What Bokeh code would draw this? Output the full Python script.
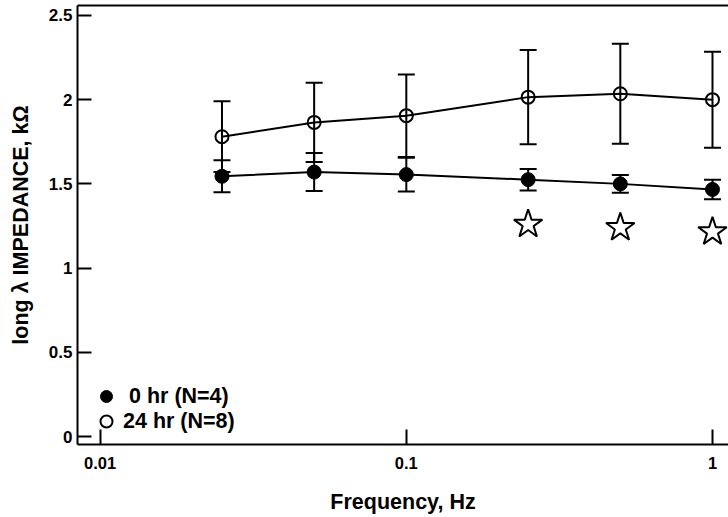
from bokeh.plotting import figure
from bokeh.models import (FixedTicker, CustomJSTickFormatter, LinearAxis, Legend,
                          LegendItem, Range1d)
from bokeh.embed import file_html
from bokeh.resources import INLINE

# ---- data ----
freq = [0.025, 0.05, 0.1, 0.25, 0.5, 1.0]
imp_0hr = [1.545, 1.57, 1.555, 1.525, 1.50, 1.467]
err_0hr = [0.095, 0.113, 0.10, 0.064, 0.053, 0.058]
imp_24hr = [1.78, 1.865, 1.905, 2.015, 2.035, 2.0]
err_24hr = [0.21, 0.235, 0.245, 0.28, 0.297, 0.285]
star_freq = [0.25, 0.5, 1.0]
star_y = [1.26, 1.24, 1.215]
x_ticks = [0.01, 0.1, 1]
y_ticks = [0, 0.5, 1, 1.5, 2, 2.5]
label_0hr = "\u00a00 hr (N=4)"
label_24hr = "24 hr (N=8)"

FONT = "Liberation Sans"

def bars(vals, errs):
    lo = [v - e for v, e in zip(vals, errs)]
    hi = [v + e for v, e in zip(vals, errs)]
    return lo, hi

lo0, hi0 = bars(imp_0hr, err_0hr)
lo24, hi24 = bars(imp_24hr, err_24hr)

p = figure(width=728, height=516, x_axis_type="log",
           x_range=Range1d(0.008434, 1.128), y_range=Range1d(-0.0473, 2.559),
           output_backend="svg", toolbar_location=None,
           min_border_left=77, min_border_right=0, min_border_top=5,
           min_border_bottom=70)
p.outline_line_color = None
p.xgrid.visible = False
p.ygrid.visible = False
p.background_fill_color = "white"

bx = p.below[0]
ly = p.left[0]

fmt = CustomJSTickFormatter(code="return tick.toString()")
for ax, tin in ((bx, 15), (ly, 14)):
    ax.axis_line_width = 2
    ax.major_tick_line_width = 2
    ax.major_tick_in = tin
    ax.major_tick_out = 0
    ax.minor_tick_line_color = None
    ax.formatter = fmt
    ax.major_label_text_font = FONT
    ax.major_label_text_font_style = "bold"
    ax.major_label_text_font_size = "16.5px"
    ax.major_label_text_color = "black"
    ax.axis_label_text_font = FONT
    ax.axis_label_text_font_style = "bold"
    ax.axis_label_text_font_size = "21.5px"
    ax.axis_label_text_color = "black"

ly.major_label_text_font_size = "17px"
bx.ticker = FixedTicker(ticks=x_ticks)
ly.ticker = FixedTicker(ticks=y_ticks)
bx.axis_label = "Frequency, Hz"
ly.axis_label = "long \u03bb IMPEDANCE, k\u03a9"
bx.major_label_standoff = 12
bx.axis_label_standoff = 18
ly.major_label_standoff = 5
ly.axis_label_standoff = 13

# top frame line (no ticks, no labels)
top = LinearAxis(ticker=FixedTicker(ticks=[]), axis_line_width=2,
                 major_tick_line_color=None, minor_tick_line_color=None,
                 major_label_text_font_size="0px")
p.add_layout(top, "above")

# error bars
for lo, hi in ((lo24, hi24), (lo0, hi0)):
    p.segment(x0=freq, y0=lo, x1=freq, y1=hi, line_color="black", line_width=2)
    p.scatter(x=freq, y=lo, marker="dash", size=17, line_color="black", line_width=2)
    p.scatter(x=freq, y=hi, marker="dash", size=17, line_color="black", line_width=2)

# connecting lines
p.line(x=freq, y=imp_24hr, line_color="black", line_width=2)
p.line(x=freq, y=imp_0hr, line_color="black", line_width=2)

r24 = p.scatter(x=freq, y=imp_24hr, marker="circle", size=13, line_color="black",
                line_width=2, fill_alpha=0)
r0 = p.scatter(x=freq, y=imp_0hr, marker="circle", size=14, line_color="black",
               fill_color="black")

# significance stars
p.scatter(x=star_freq, y=star_y, marker="star", size=30, line_color="black",
          line_width=2, fill_color="white")

def make_legend(label, rend, loc):
    return Legend(items=[LegendItem(label=label, renderers=[rend])],
                  location=loc, glyph_width=30, glyph_height=30,
                  label_height=30, spacing=0, padding=0, margin=0,
                  label_standoff=2, border_line_color=None,
                  background_fill_alpha=0, label_text_font=FONT,
                  label_text_font_style="bold", label_text_font_size="21.5px",
                  label_text_color="black")

p.add_layout(make_legend(label_0hr, r0, (14, 33)), "center")
p.add_layout(make_legend(label_24hr, r24, (14, 8)), "center")

open("out.html", "w").write(file_html(p, INLINE))
